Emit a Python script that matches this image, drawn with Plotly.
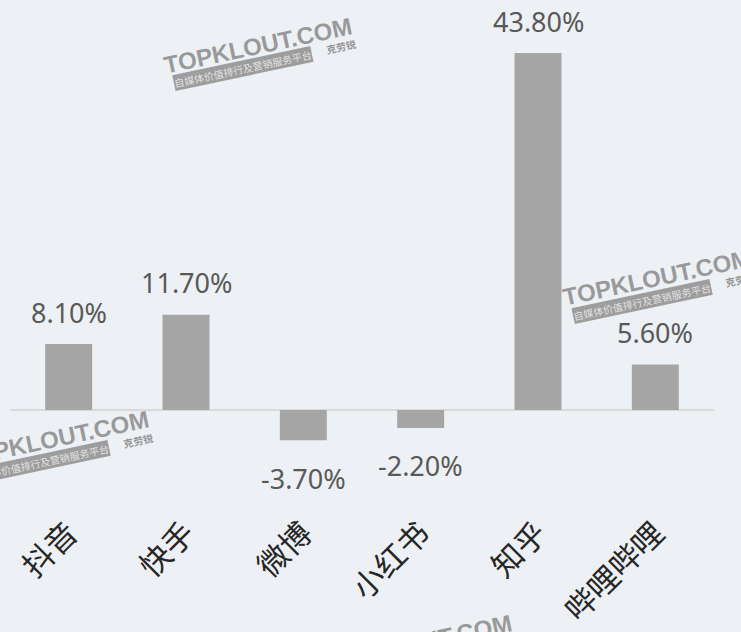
import plotly.graph_objects as go

categories = ["抖音", "快手", "微博", "小红书", "知乎", "哔哩哔哩"]
growth = [8.1, 11.7, -3.7, -2.2, 43.8, 5.6]
labels = ["8.10%", "11.70%", "-3.70%", "-2.20%", "43.80%", "5.60%"]

BG = "#edf0f4"
W, H = 741, 632
ML, MR, MT, MB = 10, 27, 20, 124
PW, PH = W - ML - MR, H - MT - MB

fig = go.Figure(go.Bar(
    x=categories, y=growth,
    marker=dict(color="#a5a5a5", line=dict(width=0)),
    width=0.4, hoverinfo="x+y",
))

for c, v, t in zip(categories, growth, labels):
    fig.add_annotation(x=c, y=v, text=t, showarrow=False, yanchor="middle", xanchor="center",
                       yshift=32 if v >= 0 else -38,
                       font=dict(family="Noto Sans, Open Sans, sans-serif", size=27, color="#595959"))

def px(x, y):
    return (x - ML) / PW, (H - MB - y) / PH

wm = [(258, 45), (657, 277), (55, 438), (418, 642)]
for (cx, cy) in wm:
    ax, ay = px(cx, cy)
    fig.add_annotation(x=ax, y=ay, xref="paper", yref="paper", text="<b>TOPKLOUT.COM</b>",
                       showarrow=False, textangle=-12, xanchor="center", yanchor="middle",
                       font=dict(family="Liberation Sans, Arial", size=24,
                                 color="rgba(125,125,125,0.75)"))
    bx, by = px(cx - 15, cy + 24)
    fig.add_annotation(x=bx, y=by, xref="paper", yref="paper",
                       text="自媒体价值排行及营销服务平台",
                       showarrow=False, textangle=-12, xanchor="center", yanchor="middle",
                       bgcolor="rgba(130,130,130,0.75)", borderpad=0,
                       font=dict(family="Noto Sans CJK SC", size=10, color="rgba(235,235,235,0.9)"))
    kx, ky = px(cx + 83, cy + 2)
    fig.add_annotation(x=kx, y=ky, xref="paper", yref="paper", text="<b>克劳锐</b>",
                       showarrow=False, textangle=-12, xanchor="center", yanchor="middle",
                       font=dict(family="Noto Sans CJK SC", size=10, color="rgba(125,125,125,0.8)"))

fig.update_layout(
    width=W, height=H, paper_bgcolor=BG, plot_bgcolor=BG,
    margin=dict(l=ML, r=MR, t=MT, b=MB),
    showlegend=False,
    xaxis=dict(tickangle=-45, showgrid=False, showline=False, ticks="", automargin=False,
               tickfont=dict(family="Noto Sans CJK SC", size=31, color="#262626")),
    yaxis=dict(range=[-12.02, 47.85], visible=True, showticklabels=False, showgrid=False,
               automargin=False,
               zeroline=True, zerolinecolor="#d9d9d9", zerolinewidth=2, showline=False, ticks=""),
)
fig.write_html("out.html", config={"displayModeBar": False},
               post_script="document.body.style.margin='0';document.body.style.background='#edf0f4';")
